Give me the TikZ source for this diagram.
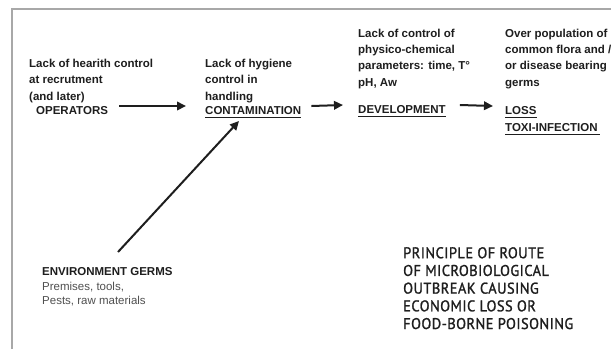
\documentclass[tikz,border=0pt]{standalone}
\usepackage{fontspec}
\setmainfont{Liberation Sans}
\newfontfamily\titlefont[FakeBold=1.3,FakeStretch=0.93,LetterSpace=3]{PT Sans}
\usetikzlibrary{arrows.meta,calc}
\definecolor{ink}{HTML}{1E1E1E}
\definecolor{framegray}{HTML}{A8A8A8}
\definecolor{soft}{HTML}{505050}
\tikzset{
  cause/.style={inner sep=0pt, anchor=base west, align=left, text=ink,
    font=\fontsize{11.5}{16.3}\selectfont\bfseries},
  stage/.style={inner sep=0pt, anchor=base west, text=ink,
    font=\fontsize{11.5}{16.3}\selectfont\bfseries},
  uline/.style={draw=ink, line width=1.8pt},
  flow/.style={draw=ink, line width=2pt, -{Triangle[length=9pt,width=8.5pt]}},
  titletext/.style={inner sep=0pt, anchor=base west, align=left, text=ink,
    font=\fontsize{15.5}{17.7}\selectfont\titlefont},
}
\begin{document}
\begin{tikzpicture}[x=1pt,y=-1pt]
\useasboundingbox (0,0) rectangle (611,349);
\fill[white] (0,0) rectangle (611,349);
% frame
\draw[framegray, line width=2pt] (11.5,349) -- (11.5,8.5) -- (611,8.5);

% cause blocks (anchored at the baseline of their last line)
\node[cause] (c1) at (29,100) {Lack of hearith control\\at recrutment\\(and later)};
\node[cause] (c2) at (205,100) {Lack of hygiene\\control in\\handling};
\node[cause] (c3) at (358,86) {Lack of control of\\physico-chemical\\parameters: time, T°\\pH, Aw};
\node[cause] (c4) at (505,86) {Over population of\\common flora and /\\or disease bearing\\germs};

% stages
\node[stage] (op) at (36,114) {OPERATORS};
\node[stage] (cont) at (205,114) {CONTAMINATION};
\node[stage] (dev) at (358,113) {DEVELOPMENT};
\node[stage] (loss) at (505,114) {LOSS};
\node[stage] (toxi) at (505,131) {TOXI-INFECTION};

% underlines
\draw[uline] ([yshift=-3.5pt]cont.base west) -- ([yshift=-3.5pt]cont.base east);
\draw[uline] ([yshift=-3.5pt]dev.base west) -- ([yshift=-3.5pt]dev.base east);
\draw[uline] ([yshift=-3.5pt]loss.base west) -- ([yshift=-3.5pt]loss.base east);
\draw[uline] ([yshift=-3.5pt]toxi.base west) -- ([yshift=-3.5pt,xshift=2pt]toxi.base east);

% environment
\node[stage] (env) at (42,275) {ENVIRONMENT GERMS};
\node[inner sep=0pt, anchor=base west, align=left, text=soft,
  font=\fontsize{11.5}{14}\selectfont] (envd) at (42,304) {Premises, tools,\\Pests, raw materials};

% arrows
\draw[flow] ([xshift=11pt,yshift=8pt]op.base east) -- ([xshift=-19pt,yshift=8pt]cont.base west);
\draw[flow] ([xshift=10pt,yshift=8pt]cont.base east) -- ([xshift=-15pt,yshift=8pt]dev.base west);
\draw[flow] ([xshift=14pt,yshift=8pt]dev.base east) -- ([xshift=-12pt,yshift=8pt]loss.base west);
\coordinate (envtop) at (118,252);
\coordinate (conttip) at (239,121);
\draw[flow] (envtop) -- (conttip);

% title (anchored at the baseline of its last line)
\node[titletext] (title) at (403,329) {PRINCIPLE OF ROUTE\\OF MICROBIOLOGICAL\\OUTBREAK CAUSING\\ECONOMIC LOSS OR\\FOOD-BORNE POISONING};
\end{tikzpicture}
\end{document}
